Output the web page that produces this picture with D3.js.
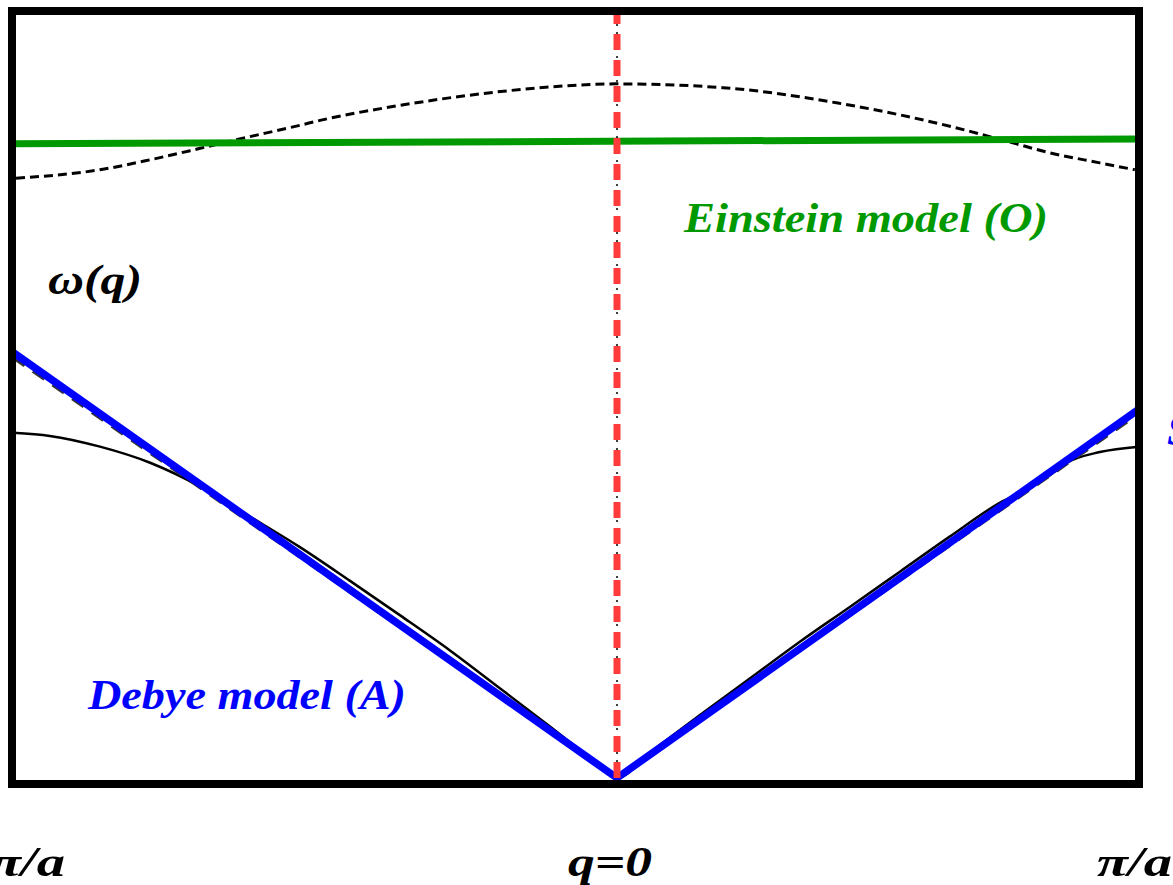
<!DOCTYPE html>
<html>
<head>
<meta charset="utf-8">
<script src="https://cdn.jsdelivr.net/npm/d3@7"></script>
<style>
  body { margin: 0; background: #fff; }
  svg { display: block; }
  .lbl { font-family: "Liberation Serif", serif; font-style: italic; font-weight: bold; }
</style>
</head>
<body>
<div id="chart"></div>
<script>
// q in units of pi/a, omega in units of the frame height
var acousticQ = [-1, -0.939, -0.856, -0.773, -0.690, -0.608, -0.525, -0.442, -0.359, -0.276, -0.194, -0.111, -0.028, 0,
                 0.063, 0.159, 0.255, 0.351, 0.446, 0.542, 0.638, 0.734, 0.791, 0.830, 0.862, 0.925, 1];
var acousticW = [0.450, 0.446, 0.432, 0.411, 0.380, 0.341, 0.301, 0.257, 0.212, 0.166, 0.117, 0.067, 0.016, 0,
                 0.033, 0.082, 0.130, 0.178, 0.223, 0.269, 0.315, 0.359, 0.378, 0.395, 0.411, 0.425, 0.432];

var opticalQ = [-0.995, -0.856, -0.773, -0.690, -0.631, -0.525, -0.488, -0.359, -0.204, -0.111, 0,
                0.203, 0.423, 0.642, 0.753, 0.830, 0.925, 0.992];
var opticalW = [0.782, 0.793, 0.806, 0.821, 0.832, 0.851, 0.858, 0.877, 0.894, 0.901, 0.905,
                0.900, 0.880, 0.849, 0.829, 0.815, 0.802, 0.793];

var einsteinQ = [-1, 1];
var einsteinW = [0.827, 0.833];

var debyeQ = [-1, 0, 1];
var debyeW = [0.555, 0, 0.481];
var debyeDashW = [0.548, 0, 0.475];

var centerQ = [0, 0];
var centerW = [0, 1];

var xTickLabels = ["π/a", "q=0", "π/a"];

var width = 1173, height = 885;

var svg = d3.select("#chart")
  .append("svg")
  .attr("width", width)
  .attr("height", height)

// q=0 is not in the middle of the frame
var x = d3.scaleLinear()
  .domain([-1, 0, 1])
  .range([13, 617, 1139])

var y = d3.scaleLinear()
  .domain([0, 1])
  .range([778, 11])

function pts(qs, ws) {
  return qs.map(function(q, i){ return [q, ws[i]] })
}

var line = d3.line()
  .x(function(d){ return x(d[0]) })
  .y(function(d){ return y(d[1]) })

var curve = d3.line()
  .curve(d3.curveMonotoneX)
  .x(function(d){ return x(d[0]) })
  .y(function(d){ return y(d[1]) })

// optical branch
svg.append("path")
  .datum(pts(opticalQ, opticalW))
  .attr("d", curve)
  .attr("fill", "none")
  .attr("stroke", "#000")
  .attr("stroke-width", 3)
  .attr("stroke-dasharray", "9,5")

// acoustic branch
svg.append("path")
  .datum(pts(acousticQ, acousticW))
  .attr("d", curve)
  .attr("fill", "none")
  .attr("stroke", "#000")
  .attr("stroke-width", 2.5)

// black dashed under the Debye line
svg.append("path")
  .datum(pts(debyeQ, debyeDashW))
  .attr("d", line)
  .attr("fill", "none")
  .attr("stroke", "#333")
  .attr("stroke-width", 3)
  .attr("stroke-dasharray", "14,10")

// Einstein model
svg.append("path")
  .datum(pts(einsteinQ, einsteinW))
  .attr("d", line)
  .attr("fill", "none")
  .attr("stroke", "#009900")
  .attr("stroke-width", 7)

// Debye model
svg.append("path")
  .datum(pts(debyeQ, debyeW))
  .attr("d", line)
  .attr("fill", "none")
  .attr("stroke", "#0000ff")
  .attr("stroke-width", 7.5)
  .attr("stroke-linejoin", "miter")

// q = 0 line: thin dotted black with red dashes on top
svg.append("path")
  .datum(pts(centerQ, centerW))
  .attr("d", line)
  .attr("stroke", "#000")
  .attr("stroke-width", 1.5)
  .attr("stroke-dasharray", "2,6")

svg.append("path")
  .datum(pts(centerQ, centerW))
  .attr("d", line)
  .attr("stroke", "#ff3b3b")
  .attr("stroke-width", 7)
  .attr("stroke-dasharray", "16,10")

// frame
svg.append("rect")
  .attr("x", 12)
  .attr("y", 11)
  .attr("width", 1127)
  .attr("height", 773)
  .attr("fill", "none")
  .attr("stroke", "#000")
  .attr("stroke-width", 8)

// labels
svg.append("text").attr("class", "lbl")
  .attr("x", 48).attr("y", 294)
  .attr("font-size", 42).attr("fill", "#000")
  .attr("textLength", 94).attr("lengthAdjust", "spacingAndGlyphs")
  .text("ω(q)")

svg.append("text").attr("class", "lbl")
  .attr("x", 684).attr("y", 232)
  .attr("font-size", 42).attr("fill", "#009900")
  .attr("textLength", 364).attr("lengthAdjust", "spacingAndGlyphs")
  .text("Einstein model (O)")

svg.append("text").attr("class", "lbl")
  .attr("x", 88).attr("y", 709)
  .attr("font-size", 42).attr("fill", "#0000ff")
  .attr("textLength", 318).attr("lengthAdjust", "spacingAndGlyphs")
  .text("Debye model (A)")

// label running off the right edge, as in the original
svg.append("text").attr("class", "lbl")
  .attr("x", 1167).attr("y", 445)
  .attr("font-size", 42).attr("fill", "#0000ff")
  .text("S")

// bottom tick labels
svg.append("text").attr("class", "lbl")
  .attr("x", -12).attr("y", 876)
  .attr("font-size", 42).attr("fill", "#000")
  .attr("text-anchor", "end")
  .text("−")

svg.append("text").attr("class", "lbl")
  .attr("x", -10).attr("y", 876)
  .attr("font-size", 42).attr("fill", "#000")
  .attr("textLength", 75).attr("lengthAdjust", "spacingAndGlyphs")
  .text(xTickLabels[0])

svg.append("text").attr("class", "lbl")
  .attr("x", 568).attr("y", 876)
  .attr("font-size", 42).attr("fill", "#000")
  .attr("textLength", 84).attr("lengthAdjust", "spacingAndGlyphs")
  .text(xTickLabels[1])

svg.append("text").attr("class", "lbl")
  .attr("x", 1097).attr("y", 876)
  .attr("font-size", 42).attr("fill", "#000")
  .attr("textLength", 75).attr("lengthAdjust", "spacingAndGlyphs")
  .text(xTickLabels[2])
</script>
</body>
</html>
